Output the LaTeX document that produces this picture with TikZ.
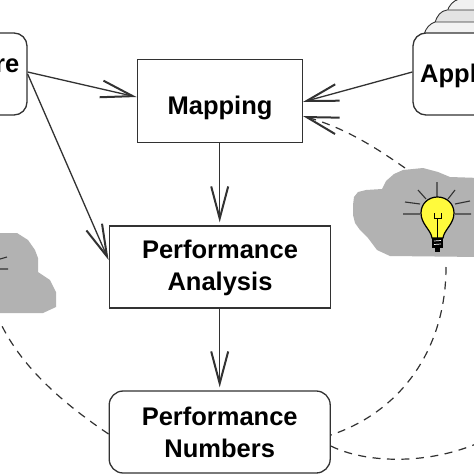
\documentclass[tikz,border=0pt]{standalone}
\usepackage{fontspec}
\setmainfont{Liberation Sans}
\usetikzlibrary{arrows.meta}
\definecolor{cloudgray}{RGB}{178,178,178}
\definecolor{linegray}{RGB}{50,50,50}
\definecolor{bulbyellow}{RGB}{255,250,60}
\tikzset{
  labeltext/.style={font=\fontsize{25.5pt}{32pt}\selectfont\bfseries,align=center,text=black},
  rectbox/.style={labeltext,draw=linegray,line width=1.3pt,fill=white,minimum width=#1,minimum height=82pt,inner sep=0pt},
  barb/.style={-{Straight Barb[length=32pt,width=17pt,line width=2pt]}},
  flow/.style={draw=linegray,line width=1.3pt,barb},
  dashflow/.style={draw=linegray,line width=1.2pt,dash pattern=on 8pt off 6.5pt},
  stackcard/.style={draw=linegray,line width=.9pt},
  rays/.style={draw=linegray,line width=1.1pt}
}
\begin{document}
\begin{tikzpicture}[x=1pt,y=-1pt]
\useasboundingbox (0,0) rectangle (474,474);
\clip (0,0) rectangle (474,474);
\fill[white] (0,0) rectangle (474,474);
% clouds
\fill[cloudgray] (353,205) -- (354,197) -- (358,192) -- (366,190) -- (382,189) -- (386,181) -- (394,174) -- (403,170) -- (423,168) -- (438,172) -- (450,177) -- (480,178) -- (480,257) -- (390,256) -- (377,250) -- (368,238) -- (360,230) -- (355,223) -- (353,215) -- cycle;
\fill[cloudgray] (-5,233) -- (17,233) -- (28,240) -- (35,250) -- (38,258) -- (38,272) -- (50,280) -- (56,292) -- (56,307) -- (43,313) -- (-5,313) -- cycle;
\draw[rays] (0,259) -- (7,257) (0,269) -- (8,269);
% named ends of the dashed curves
\coordinate (dashA) at (446,267);
\coordinate (dashB) at (405,168);
\coordinate (dashC) at (476,444);
\coordinate (dashD) at (2,326);
% boxes
\node[rectbox=165pt,minimum height=82.5pt] (mapping) at (219.7,101) {};
\node[labeltext] (mappingtext) at (220,107.5) {Mapping};
\node[rectbox=221pt] (perf) at (219.7,267) {};
\node[labeltext] (perftext) at (220,267.5) {Performance\\Analysis};
\node[rectbox=221pt,rounded corners=14pt] (nums) at (219.7,432) {Performance\\Numbers};
% hardware
\node[draw=linegray,line width=1.3pt,fill=white,rounded corners=13pt,minimum width=120pt,minimum height=82pt,inner sep=0pt] (hw) at (-33,74) {};
\node[labeltext,anchor=base east,inner sep=0pt] (hwtext) at (19.5,72) {Hardware};
% application stack
\draw[stackcard,fill=gray!12] (447,12) .. controls (449,5) and (453,1) .. (459,-1) -- (480,-1) -- (480,14) -- (447,14) -- cycle;
\draw[stackcard,fill=gray!22] (435,23) .. controls (437,15) and (441,11) .. (447,10) -- (480,10) -- (480,25) -- (435,25) -- cycle;
\draw[stackcard,fill=gray!10] (424,35) .. controls (426,27) and (430,24) .. (435,22) -- (480,22) -- (480,37) -- (424,37) -- cycle;
\node[draw=linegray,line width=1.3pt,fill=white,rounded corners=13pt,minimum width=130pt,minimum height=82pt,inner sep=0pt] (app) at (478,74) {};
\node[labeltext,anchor=base west,inner sep=0pt] (apptext) at (420,82) {Application};
% flows
\draw[flow] (hw.east |- 0,72) -- (mapping.west |- 0,97);
\draw[flow] (hw.east |- 0,74) -- (perf.west |- 0,260);
\draw[flow] (app.west |- 0,72) -- (mapping.east |- 0,102);
\draw[flow,shorten >=3pt] (mapping.south) -- (perf.north);
\draw[flow,shorten >=3pt] (perf.south) -- (nums.north);
% dashed feedback curves
\draw[dashflow] (dashA) .. controls (446,350) and (400,412) .. (nums.east |- 0,435);
\draw[dashflow] (nums.east |- 0,446) .. controls (365,463) and (425,465) .. (dashC);
\draw[dashflow] (nums.west |- 0,434) .. controls (70,408) and (25,372) .. (dashD);
\draw[dashflow,barb] (dashB) .. controls (375,147) and (345,128) .. (mapping.east |- 0,116);
% bulb
\draw[rays] (437,182) -- (437,198) (418,190) -- (426,199) (455,190) -- (448,199) (405,202) -- (420,204) (470,201) -- (455,204) (403,214) -- (420,214) (455,214) -- (471,214);
\filldraw[fill=bulbyellow,draw=black,line width=1.2pt] (432,238) .. controls (431,230) and (421,224) .. (421,213) .. controls (421,204) and (428,197) .. (437.5,197) .. controls (447,197) and (454,204) .. (454,213) .. controls (454,224) and (444,230) .. (443,238) -- cycle;
\draw[black,line width=.7pt] (437.5,238) -- (437.5,218) (434,213) -- (434,218) -- (437.5,218) (441,213) -- (441,218) -- (437.5,218);
\fill[black] (432,238) rectangle (443,248);
\draw[white,line width=.7pt] (434,241) -- (441,240.5) (434,244.5) -- (441,244);
\fill[black] (435,248) rectangle (440,252);
\end{tikzpicture}
\end{document}
